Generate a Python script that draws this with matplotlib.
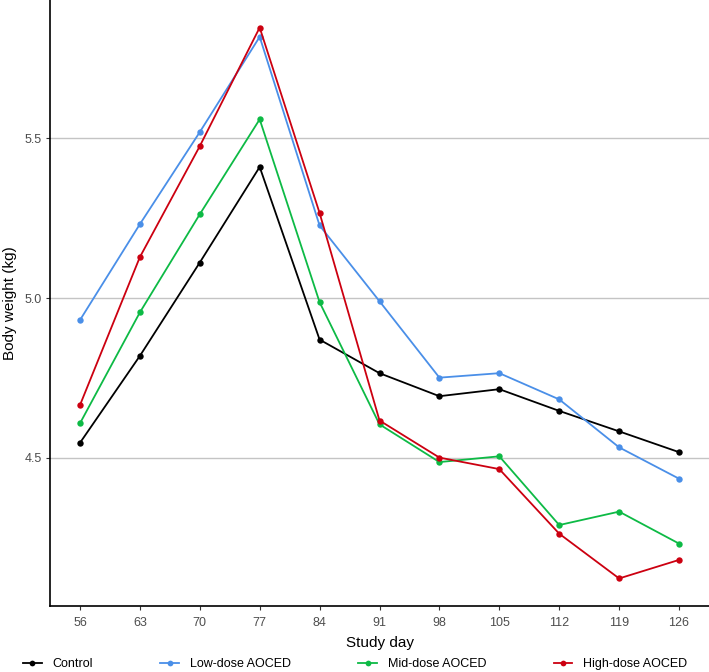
import numpy as np
import matplotlib.pyplot as plt

plt.rcParams['font.family'] = ['Liberation Sans', 'DejaVu Sans']

# Study days and mean body weight per group (kg)
days = [56, 63, 70, 77, 84, 91, 98, 105, 112, 119, 126]
control = [4.547, 4.819, 5.111, 5.410, 4.870, 4.765, 4.693, 4.715, 4.647, 4.583, 4.518]
low_dose = [4.931, 5.231, 5.519, 5.817, 5.227, 4.990, 4.751, 4.765, 4.683, 4.533, 4.435]
mid_dose = [4.608, 4.955, 5.262, 5.559, 4.987, 4.605, 4.487, 4.505, 4.290, 4.332, 4.232]
high_dose = [4.665, 5.128, 5.475, 5.846, 5.266, 4.617, 4.501, 4.465, 4.263, 4.123, 4.181]

group_names = ['Control', 'Low-dose AOCED', 'Mid-dose AOCED', 'High-dose AOCED']
group_values = [control, low_dose, mid_dose, high_dose]
group_colors = ['#000000', '#4A8FE8', '#0DBA45', '#CC0010']

fig = plt.figure(figsize=(7.09, 6.72), dpi=100)
ax = fig.add_axes([50 / 709, 1 - 606 / 672, 1 - 50 / 709, 606 / 672])

for name, values, color in zip(group_names, group_values, group_colors):
    ax.plot(days, values, color=color, lw=1.3, marker='o', markersize=4.6,
            markeredgewidth=0, label=name)

# ggplot style 5% expansion
all_vals = np.concatenate([np.array(v) for v in group_values])
ymin, ymax = all_vals.min(), all_vals.max()
ypad = (ymax - ymin) * 0.05
ax.set_ylim(ymin - ypad, ymax + ypad)
xpad = (days[-1] - days[0]) * 0.05
ax.set_xlim(days[0] - xpad, days[-1] + xpad)

ax.set_xticks(days)
ax.set_yticks([4.5, 5.0, 5.5])
ax.set_yticklabels(['4.5', '5.0', '5.5'])
ax.yaxis.grid(True, color='#C4C4C4', lw=1.0)
ax.set_axisbelow(True)

for side in ['top', 'right']:
    ax.spines[side].set_visible(False)
for side in ['left', 'bottom']:
    ax.spines[side].set_linewidth(1.2)
    ax.spines[side].set_color('black')

ax.tick_params(axis='both', colors='#333333', labelcolor='#4D4D4D',
               labelsize=9, length=3, width=0.8, pad=3)
ax.tick_params(axis='x', pad=5)
ax.set_xlabel('Study day', fontsize=11, labelpad=5)
fig.text(10 / 709, 1 - 303 / 672, 'Body weight (kg)', rotation=90,
         ha='center', va='center', fontsize=11)

fig.legend(loc='center left', bbox_to_anchor=(23 / 709, 1 - 664 / 672), ncol=4,
           frameon=False, fontsize=9, handlelength=1.5, handletextpad=0.85,
           columnspacing=5.4, borderaxespad=0, borderpad=0, markerscale=0.9)

fig.savefig('out.png', dpi=100)
